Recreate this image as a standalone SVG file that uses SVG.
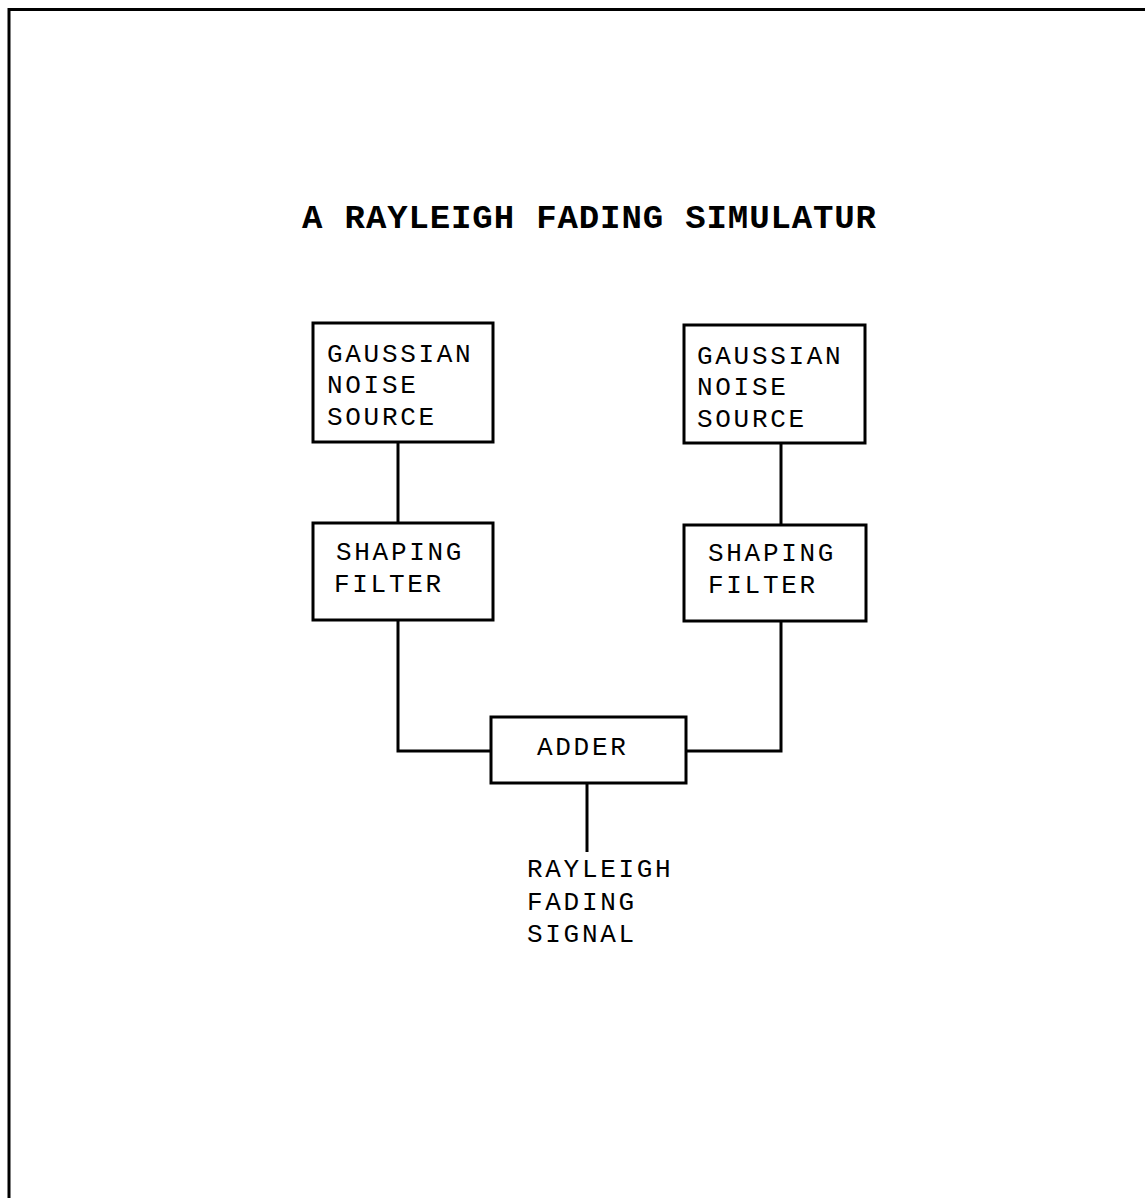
<svg xmlns="http://www.w3.org/2000/svg" width="1145" height="1198" viewBox="0 0 1145 1198">
<style>
.box{fill:none;stroke:#000;stroke-width:3}
.ln{fill:none;stroke:#000;stroke-width:3}
.t{font-family:"Liberation Mono","DejaVu Sans Mono",monospace;font-size:26px;fill:#000;letter-spacing:2.7px}
.title{font-family:"Liberation Mono","DejaVu Sans Mono",monospace;font-size:34px;font-weight:bold;fill:#000}
</style>
<rect width="1145" height="1198" fill="#fff"/>
<path class="ln" d="M9,1198 V9.5 H1145"/>
<text class="title" x="302" y="228" textLength="574" lengthAdjust="spacing">A RAYLEIGH FADING SIMULATUR</text>
<g id="connectors">
<line class="ln" x1="398" y1="442" x2="398" y2="523"/>
<line class="ln" x1="781" y1="443" x2="781" y2="525"/>
<polyline class="ln" points="398,620 398,751 491,751"/>
<polyline class="ln" points="781,621 781,751 686,751"/>
<line class="ln" x1="587" y1="783" x2="587" y2="852"/>
</g>
<g id="gauss1">
<rect class="box" x="313" y="323" width="180" height="119"/>
<text class="t" x="327" y="362">GAUSSIAN</text>
<text class="t" x="327" y="393">NOISE</text>
<text class="t" x="327" y="425">SOURCE</text>
</g>
<g id="gauss2">
<rect class="box" x="684" y="325" width="181" height="118"/>
<text class="t" x="697" y="364">GAUSSIAN</text>
<text class="t" x="697" y="395">NOISE</text>
<text class="t" x="697" y="427">SOURCE</text>
</g>
<g id="shape1">
<rect class="box" x="313" y="523" width="180" height="97"/>
<text class="t" x="336" y="560">SHAPING</text>
<text class="t" x="334" y="592">FILTER</text>
</g>
<g id="shape2">
<rect class="box" x="684" y="525" width="182" height="96"/>
<text class="t" x="708" y="561">SHAPING</text>
<text class="t" x="708" y="593">FILTER</text>
</g>
<g id="adder">
<rect class="box" x="491" y="717" width="195" height="66"/>
<text class="t" x="537" y="755">ADDER</text>
</g>
<g id="output">
<text class="t" x="527" y="877">RAYLEIGH</text>
<text class="t" x="527" y="910">FADING</text>
<text class="t" x="527" y="942">SIGNAL</text>
</g>
</svg>
